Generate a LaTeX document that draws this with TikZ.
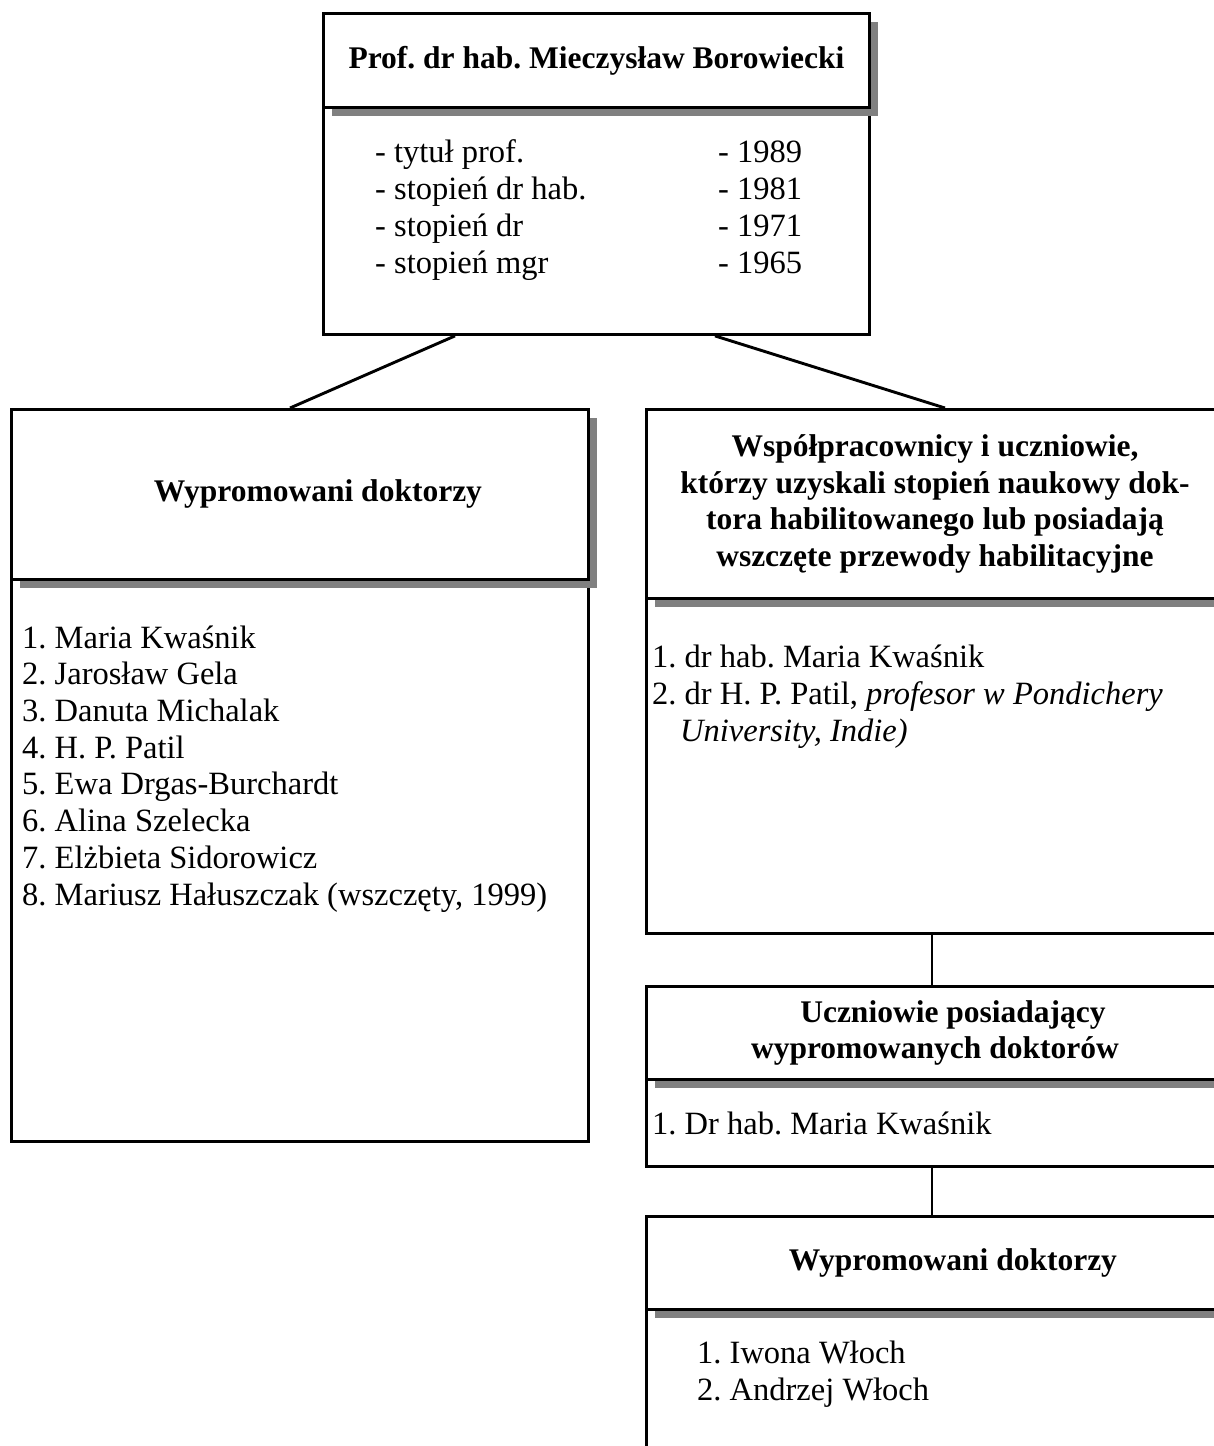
\documentclass[tikz,border=0pt]{standalone}
\usepackage{fontspec}
\setmainfont{Liberation Serif}
\usetikzlibrary{shadows,calc}
\frenchspacing

\begin{document}
\begin{tikzpicture}[x=1pt,y=-1pt,
  every node/.style={font=\fontsize{32.5}{36.7}\selectfont},
  frame/.style={draw, line width=2.9pt, inner sep=0pt, anchor=north west},
  head/.style={frame, fill=white, font=\fontsize{31.5}{36.7}\selectfont\bfseries, align=center,
    drop shadow={shadow xshift=9pt, shadow yshift=-9pt, fill=black!50, opacity=1}},
  bodybox/.style={frame},
  listing/.style={anchor=base west, align=left, inner sep=0pt},
  link/.style={line width=2.9pt}]

\useasboundingbox (0,0) rectangle (1214,1446);
\clip (0,0) rectangle (1214,1446);

% lower parts of the boxes (drawn first so the header shadows lie on top)
\node[bodybox, minimum width=546pt, minimum height=227pt] (topbody)   at (322,106)  {};
\node[bodybox, minimum width=577pt, minimum height=562pt] (leftbody)  at (10,578)   {};
\node[bodybox, minimum width=577pt, minimum height=335pt] (rightbody) at (645,597)  {};
\node[bodybox, minimum width=577pt, minimum height=87pt]  (midbody)   at (645,1078) {};
\node[bodybox, minimum width=577pt, minimum height=160pt] (lowbody)   at (645,1308) {};

% headers with drop shadows
\node[head, minimum width=546pt, minimum height=94pt] (tophead) at (322,12)
  {\raisebox{-4pt}{Prof. dr hab. Mieczysław Borowiecki}};
\node[head, minimum width=577pt, minimum height=170pt] (lefthead) at (10,408)
  {\hspace*{36pt}Wypromowani doktorzy};
\node[head, minimum width=577pt, minimum height=189pt] (righthead) at (645,408)
  {Współpracownicy i uczniowie,\\
   którzy uzyskali stopień naukowy dok-\\
   tora habilitowanego lub posiadają\\
   wszczęte przewody habilitacyjne};
\node[head, minimum width=577pt, minimum height=93pt] (midhead) at (645,985)
  {\hspace*{36pt}Uczniowie posiadający\\wypromowanych doktorów};
\node[head, minimum width=577pt, minimum height=93pt] (lowhead) at (645,1215)
  {\hspace*{36pt}Wypromowani doktorzy};

% box contents (each list is anchored at the baseline of its last line)
\node[listing] (toplabels) at (375,273)
  {- tytuł prof.\\- stopień dr hab.\\- stopień dr\\- stopień mgr};
\node[listing] (topyears) at (718,273)
  {- 1989\\- 1981\\- 1971\\- 1965};
\node[listing] (leftlist) at (22,905)
  {1. Maria Kwaśnik\\
   2. Jarosław Gela\\
   3. Danuta Michalak\\
   4. H. P. Patil\\
   5. Ewa Drgas-Burchardt\\
   6. Alina Szelecka\\
   7. Elżbieta Sidorowicz\\
   8. Mariusz Hałuszczak (wszczęty, 1999)};
\node[listing] (rightlist) at (652,741)
  {1. dr hab. Maria Kwaśnik\\
   2. dr H. P. Patil, \textit{profesor w Pondichery}\\
   \hspace*{28pt}\textit{University, Indie)}};
\node[listing] (midlist) at (652,1134) {1. Dr hab. Maria Kwaśnik};
\node[listing] (lowlist) at (697,1400) {1. Iwona Włoch\\2. Andrzej Włoch};

% connectors
\draw[link] ($(topbody.south west)+(133,0)$) -- ($(lefthead.north west)+(280,0)$);
\draw[link] ($(topbody.south west)+(393,0)$) -- ($(righthead.north west)+(300,0)$);
\draw[link] ($(rightbody.south west)+(287,0)$) -- ($(midhead.north west)+(287,0)$);
\draw[link] ($(midbody.south west)+(287,0)$) -- ($(lowhead.north west)+(287,0)$);
\end{tikzpicture}
\end{document}
